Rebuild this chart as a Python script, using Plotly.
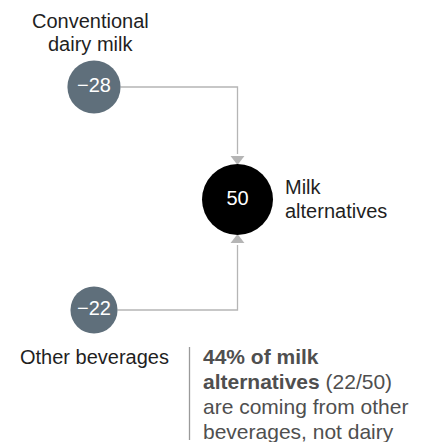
import plotly.graph_objects as go

# ---- data ----
source_labels = ["Conventional<br>dairy milk", "Other beverages"]
source_values = [-28, -22]
target_label = "Milk alternatives"
target_value = 50
note_lines = [
    "<b>44% of milk</b>",
    "<b>alternatives</b> (22/50)",
    "are coming from other",
    "beverages, not dairy",
]

# ---- layout (pixel canvas) ----
W, H = 422, 442
FONT = "Liberation Sans, Arial, sans-serif"
GRAY_NODE = "#5f6f7b"
LINE = "#b5b5b5"
src_pos = [(94, 87), (94, 310)]
tgt_pos = (237.5, 199.5)
max_d = 71  # diameter (px) of the largest node; node area is proportional to value


def diam(v):
    return max_d * (abs(v) / abs(target_value)) ** 0.5


fig = go.Figure()

# connector lines + arrowheads
tr = diam(target_value) / 2
for (sx, sy), v in zip(src_pos, source_values):
    r = diam(v) / 2
    above = sy < tgt_pos[1]
    tip_y = tgt_pos[1] - tr if above else tgt_pos[1] + tr
    base_y = tip_y - 10 if above else tip_y + 10
    fig.add_trace(go.Scatter(
        x=[sx + r, tgt_pos[0], tgt_pos[0]], y=[sy, sy, base_y],
        mode="lines", line=dict(color=LINE, width=1.3),
        hoverinfo="skip", showlegend=False))
    fig.add_trace(go.Scatter(
        x=[tgt_pos[0]], y=[(tip_y + base_y) / 2], mode="markers",
        marker=dict(symbol="triangle-down" if above else "triangle-up",
                    size=12, color=LINE, opacity=1),
        hoverinfo="skip", showlegend=False))

# source nodes
fig.add_trace(go.Scatter(
    x=[p[0] for p in src_pos], y=[p[1] for p in src_pos],
    mode="markers+text",
    marker=dict(size=[diam(v) for v in source_values], sizemode="diameter",
                color=GRAY_NODE, opacity=1, line=dict(width=0)),
    text=["\u2212" + str(abs(v)) for v in source_values],
    textposition="middle center",
    textfont=dict(color="white", size=20, family=FONT),
    hoverinfo="skip", showlegend=False))

# target node
fig.add_trace(go.Scatter(
    x=[tgt_pos[0]], y=[tgt_pos[1]], mode="markers+text",
    marker=dict(size=[diam(target_value)], sizemode="diameter",
                color="black", opacity=1, line=dict(width=0)),
    text=[str(target_value)], textposition="middle center",
    textfont=dict(color="white", size=20, family=FONT),
    hoverinfo="skip", showlegend=False))

ann = []


def label(x, y, text, anchor="center", color="#1f1f1f", size=20):
    ann.append(dict(x=x, y=y, text=text, showarrow=False, xanchor=anchor,
                    yanchor="middle", align=anchor if anchor != "center" else "center",
                    font=dict(family=FONT, size=size, color=color)))


# source labels
top_lines = source_labels[0].split("<br>")
label(90, 21, top_lines[0])
label(90, 44, top_lines[1])
label(94, 357, source_labels[1])
# target label
tw = target_label.split(" ")
label(283, 187, tw[0], anchor="left")
label(283, 211, tw[1], anchor="left")
# note
for i, t in enumerate(note_lines):
    label(201, 356 + i * 25, t, anchor="left", color="#4f4f4f", size=21)

fig.add_shape(type="line", x0=189.5, x1=189.5, y0=347, y1=440,
              line=dict(color="#9a9a9a", width=1.3))

fig.update_layout(
    width=W, height=H, margin=dict(l=0, r=0, t=0, b=0),
    paper_bgcolor="white", plot_bgcolor="white",
    xaxis=dict(range=[0, W], visible=False, fixedrange=True),
    yaxis=dict(range=[H, 0], visible=False, fixedrange=True),
    annotations=ann,
)
fig.write_html("out.html", config={"displayModeBar": False},
               post_script="document.body.style.margin='0';")
